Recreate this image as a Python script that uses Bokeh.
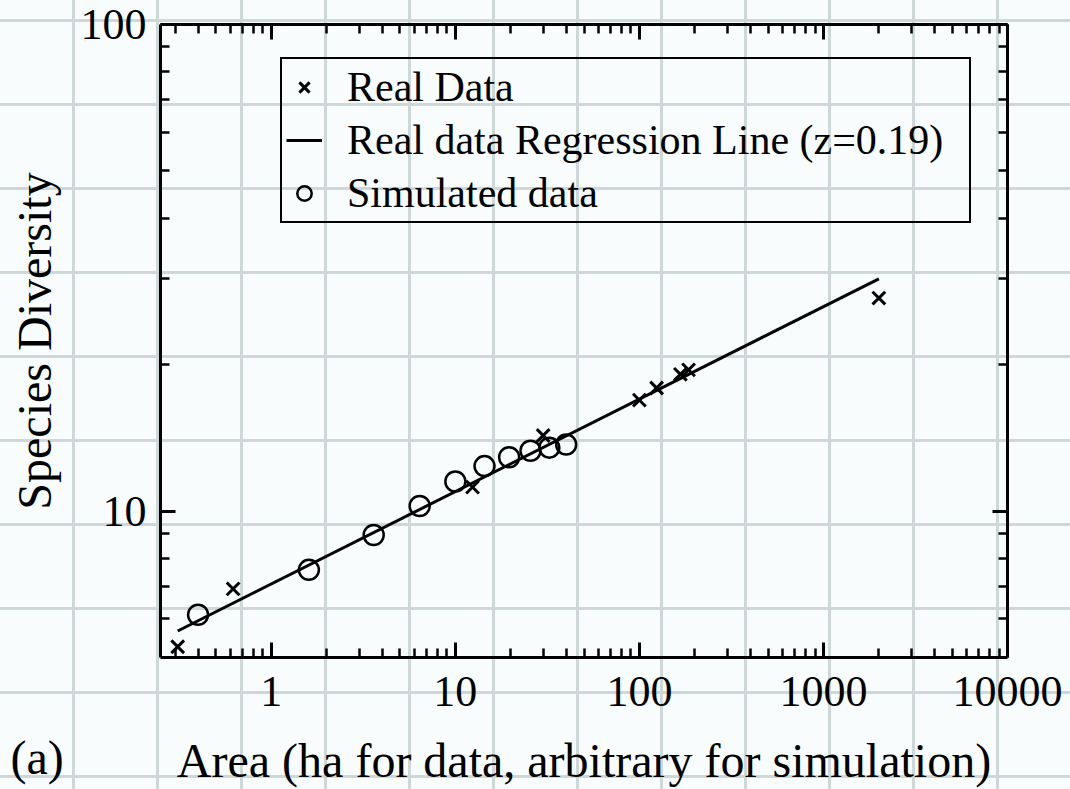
from bokeh.plotting import figure
from bokeh.models import (LogAxis, FixedTicker, CustomJSTickFormatter, Legend,
                          LegendItem, Label)
from bokeh.embed import file_html
from bokeh.resources import INLINE

# Field observations: area (ha) and number of species
real_area = [0.31, 0.62, 12.4, 30, 100, 124, 167, 185, 2000]
real_species = [5.26, 6.92, 11.2, 14.3, 16.9, 17.9, 19.1, 19.5, 27.4]

# Simulation runs: area in arbitrary units and species diversity
sim_area = [0.4, 1.6, 3.6, 6.4, 10, 14.4, 19.6, 25.6, 32.4, 40]
sim_species = [6.12, 7.57, 8.93, 10.24, 11.5, 12.37, 12.9, 13.3, 13.5, 13.7]

# Species-area power law S = c * A^z fitted to the field data
z = 0.19
c = 7.08

# Axis ticks
x_major_ticks = [1, 10, 100, 1000, 10000]
y_major_ticks = [10, 100]
x_minor_ticks = [m * d for d in (0.1, 1, 10, 100, 1000) for m in range(2, 10)]
y_minor_ticks = [6, 7, 8, 9] + [m * 10 for m in range(2, 10)]

legend_labels = ["Real Data", "Real data Regression Line (z=0.19)", "Simulated data"]
panel_tag = "(a)"

SERIF = "Liberation Serif"

fit_area = [min(real_area), max(real_area)]
fit_species = [c * a ** z for a in fit_area]

p = figure(width=1070, height=789, x_axis_type="log", y_axis_type="log",
           x_range=(0.25, 10000), y_range=(5, 100),
           output_backend="svg", toolbar_location=None,
           min_border_left=160, min_border_right=63,
           min_border_top=24, min_border_bottom=131)

p.background_fill_color = None
p.border_fill_color = None
p.outline_line_color = None
p.grid.visible = False

# graph-paper page background
p.styles = {
    "background-color": "#f9fcfd",
    "background-image": (
        "linear-gradient(to right, #cfd8d9 0px, #cfd8d9 3px, transparent 3px, transparent 100%),"
        "linear-gradient(to bottom, #cfd8d9 0px, #cfd8d9 3px, transparent 3px, transparent 100%)"
    ),
    "background-size": "84px 84px",
    "background-position": "72px 19px",
}


def style_axis(ax, major, minor):
    ax.ticker = FixedTicker(ticks=major, minor_ticks=minor)
    ax.axis_line_width = 3
    ax.axis_line_color = "black"
    ax.major_tick_line_width = 3
    ax.minor_tick_line_width = 2.5
    ax.major_tick_in = 15
    ax.major_tick_out = 0
    ax.minor_tick_in = 9
    ax.minor_tick_out = 0
    ax.major_label_text_font = SERIF
    ax.major_label_text_font_size = "44px"
    ax.major_label_text_color = "black"
    ax.major_label_text_line_height = 1.0
    ax.axis_label_text_font = SERIF
    ax.axis_label_text_font_size = "48px"
    ax.axis_label_text_font_style = "normal"
    ax.axis_label_text_color = "black"
    ax.axis_label_text_line_height = 1.0


plain = CustomJSTickFormatter(code="return tick.toString()")
xax = p.xaxis[0]
yax = p.yaxis[0]
style_axis(xax, x_major_ticks, x_minor_ticks)
style_axis(yax, y_major_ticks, y_minor_ticks)
xax.formatter = plain
yax.formatter = plain
xax.axis_label = "Area (ha for data, arbitrary for simulation)"
yax.axis_label = "Species Diversity"
xax.major_label_standoff = 19
xax.axis_label_standoff = 25
yax.major_label_standoff = 14
yax.axis_label_standoff = 17

# mirrored tick marks on the top and right edges, without labels
blank = CustomJSTickFormatter(code="return ''")
top = LogAxis()
right = LogAxis()
for ax, major, minor in ((top, x_major_ticks, x_minor_ticks), (right, y_major_ticks, y_minor_ticks)):
    style_axis(ax, major, minor)
    ax.formatter = blank
    ax.major_label_standoff = 0
    ax.major_label_text_font_size = "1px"
p.add_layout(top, "above")
p.add_layout(right, "right")

# regression line
r_fit = p.line(fit_area, fit_species, line_color="black", line_width=3)

# real data crosses
r_real = p.scatter(real_area, real_species, marker="x", size=18,
                   line_color="black", line_width=3)

# simulated data circles
r_sim = p.scatter(sim_area, sim_species, marker="circle", size=20,
                  fill_color=None, line_color="black", line_width=2.5)

legend = Legend(items=[LegendItem(label=legend_labels[0], renderers=[r_real]),
                       LegendItem(label=legend_labels[1], renderers=[r_fit]),
                       LegendItem(label=legend_labels[2], renderers=[r_sim])],
                location=(120, 434), margin=0, padding=4, spacing=5,
                glyph_width=36, glyph_height=42, label_standoff=25,
                label_width=618,
                label_text_font=SERIF, label_text_font_size="42px",
                label_text_color="black",
                border_line_color="black", border_line_alpha=1.0,
                border_line_width=2.5, background_fill_alpha=0)
p.add_layout(legend)

# panel tag in the lower-left corner, drawn from a side panel so it is not clipped
tag = Label(x=-997, y=-100, x_units="screen", y_units="screen", text=panel_tag,
            text_font=SERIF, text_font_size="48px", text_color="black",
            text_baseline="alphabetic")
p.add_layout(tag, "right")

open("out.html", "w").write(file_html(p, INLINE))
